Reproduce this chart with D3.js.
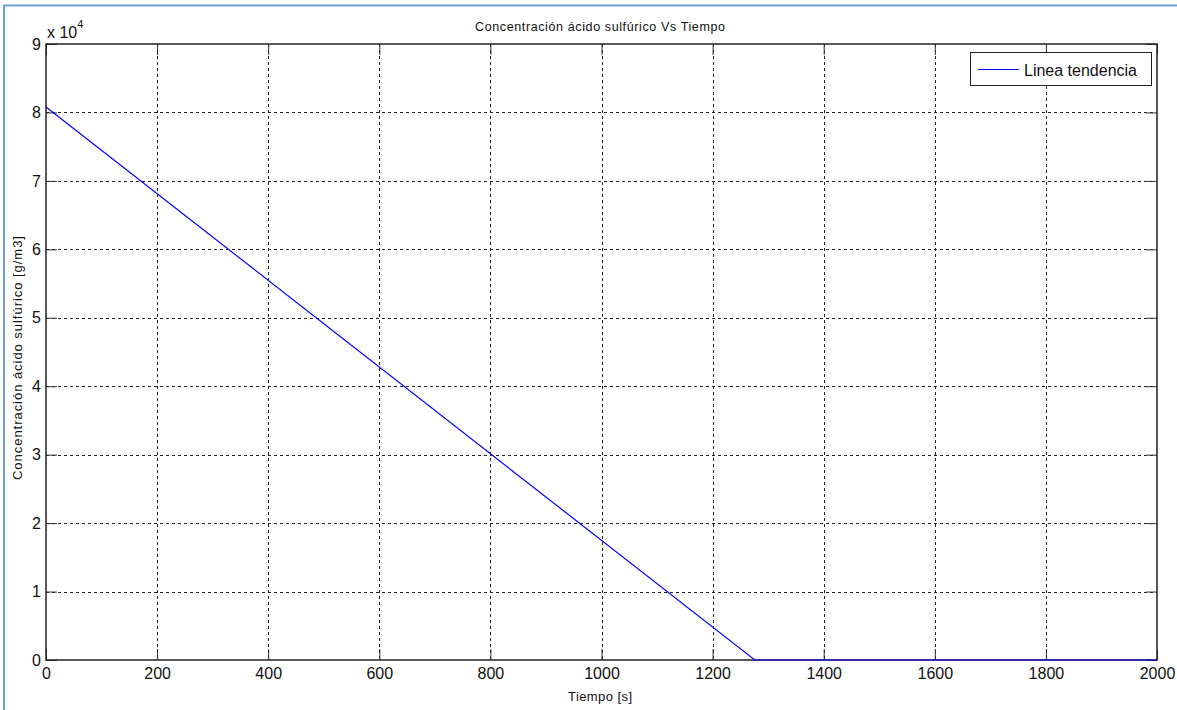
<!DOCTYPE html>
<html><head><meta charset="utf-8">
<script src="https://cdn.jsdelivr.net/npm/d3@7"></script>
<style>body{margin:0;background:#fff;}svg{display:block;font-family:"Liberation Sans",Arial,sans-serif;}</style>
</head><body>
<svg id="c" width="1177" height="710"></svg>
<script>
const timeSeconds = [0, 1276, 2000];
const concentration = [80800, 0, 0];
const xTicks = [0, 200, 400, 600, 800, 1000, 1200, 1400, 1600, 1800, 2000];
const yTicks = [0, 1, 2, 3, 4, 5, 6, 7, 8, 9];
const yTickScale = 10000;
const titleText = "Concentración ácido sulfúrico Vs Tiempo";
const xLabelText = "Tiempo [s]";
const yLabelText = "Concentración ácido sulfúrico [g/m3]";
const legendText = "Linea tendencia";

const svg = d3.select("#c");
const L = 46, R = 1157, T = 44, B = 660;
const x = d3.scaleLinear().domain([0, 2000]).range([L, R]);
const y = d3.scaleLinear().domain([0, 90000]).range([B, T]);

// outer frame
svg.append("rect").attr("x", 4).attr("y", 5.5).attr("width", 1200).attr("height", 800)
  .attr("fill", "none").attr("stroke", "#6f9fd9").attr("stroke-width", 2);

// grid
const g = svg.append("g");
g.selectAll(".gx").data(xTicks.slice(1, -1)).join("line")
  .attr("x1", d => Math.round(x(d)) + 0.5).attr("x2", d => Math.round(x(d)) + 0.5)
  .attr("y1", T).attr("y2", B).attr("stroke", "#222").attr("stroke-dasharray", "3,3").attr("stroke-width", 1);
g.selectAll(".gy").data(yTicks.slice(1, -1)).join("line")
  .attr("y1", d => Math.round(y(d * yTickScale)) + 0.5).attr("y2", d => Math.round(y(d * yTickScale)) + 0.5)
  .attr("x1", L).attr("x2", R).attr("stroke", "#222").attr("stroke-dasharray", "3,3").attr("stroke-width", 1);

// axes (ticks inside)
const xAxisB = d3.axisBottom(x).tickValues(xTicks).tickSize(-11).tickPadding(8).tickFormat(d3.format("d"));
const xAxisT = d3.axisTop(x).tickValues(xTicks).tickSize(-11).tickFormat("");
const yAxisL = d3.axisLeft(y).tickValues(yTicks.map(v => v * yTickScale)).tickSize(-11).tickPadding(5).tickFormat(d => d / yTickScale);
const yAxisR = d3.axisRight(y).tickValues(yTicks.map(v => v * yTickScale)).tickSize(-11).tickFormat("");

function style(sel) {
  sel.select(".domain").remove();
  sel.selectAll(".tick line").attr("stroke", "#333");
  sel.selectAll("text").attr("font-size", 16).attr("fill", "#111").attr("font-family", "Liberation Sans, Arial, sans-serif");
}
svg.append("g").attr("transform", `translate(0,${B})`).call(xAxisB).call(style);
svg.append("g").attr("transform", `translate(0,${T})`).call(xAxisT).call(style);
svg.append("g").attr("transform", `translate(${L},0)`).call(yAxisL).call(style);
svg.append("g").attr("transform", `translate(${R},0)`).call(yAxisR).call(style);

// box
svg.append("rect").attr("x", L).attr("y", T).attr("width", R - L).attr("height", B - T)
  .attr("fill", "none").attr("stroke", "#222").attr("stroke-width", 1.5);

// data line
svg.append("path").datum(timeSeconds.map((t, i) => [t, concentration[i]]))
  .attr("d", d3.line().x(d => x(d[0])).y(d => y(d[1])))
  .attr("fill", "none").attr("stroke", "#0000ff").attr("stroke-width", 1.2);

// exponent label
const ex = svg.append("text").attr("x", 47).attr("y", 38).attr("font-size", 16).attr("fill", "#111");
ex.append("tspan").text("x 10");
ex.append("tspan").attr("dy", -10).attr("font-size", 11).text("4");

// title
svg.append("text").attr("x", 600).attr("y", 31).attr("text-anchor", "middle")
  .attr("font-size", 12.5).attr("fill", "#111").attr("textLength", 250).attr("lengthAdjust", "spacing").text(titleText);
// x label
svg.append("text").attr("x", 600).attr("y", 701).attr("text-anchor", "middle")
  .attr("font-size", 13).attr("fill", "#111").attr("textLength", 64).attr("lengthAdjust", "spacing").text(xLabelText);
// y label
svg.append("text").attr("transform", "translate(22,358) rotate(-90)").attr("text-anchor", "middle")
  .attr("font-size", 13).attr("fill", "#111").attr("textLength", 244).attr("lengthAdjust", "spacing").text(yLabelText);

// legend
const lg = svg.append("g");
lg.append("rect").attr("x", 970.5).attr("y", 52.5).attr("width", 181).attr("height", 33)
  .attr("fill", "#fff").attr("stroke", "#222").attr("stroke-width", 1);
lg.append("line").attr("x1", 978).attr("x2", 1019).attr("y1", 69.5).attr("y2", 69.5)
  .attr("stroke", "#0000ff").attr("stroke-width", 1.2);
lg.append("text").attr("x", 1024).attr("y", 75.5).attr("font-size", 16).attr("fill", "#111").text(legendText);
</script>
</body></html>
